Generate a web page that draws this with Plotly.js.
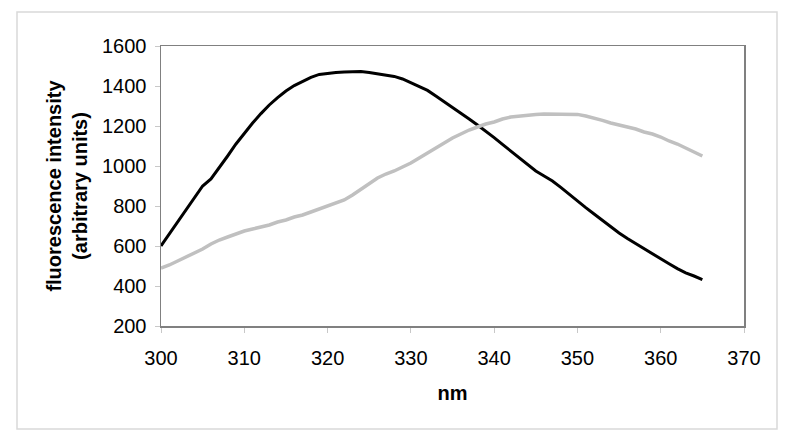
<!DOCTYPE html>
<html>
<head>
<meta charset="utf-8">
<script src="https://cdn.plot.ly/plotly-3.0.1.min.js"></script>
<style>
  html, body { margin: 0; padding: 0; background: #fff; }
  #chart { width: 800px; height: 444px; }
</style>
</head>
<body>
<div id="chart"></div>
<script>
// wavelength (nm) at 1 nm steps
var nm = [300,301,302,303,304,305,306,307,308,309,310,311,312,313,314,315,316,317,318,319,
          320,321,322,323,324,325,326,327,328,329,330,331,332,333,334,335,336,337,338,339,
          340,341,342,343,344,345,346,347,348,349,350,351,352,353,354,355,356,357,358,359,
          360,361,362,363,364,365];

// black curve
var darkSeries = [600,660,720,780,840,900,935,990,1050,1110,1165,1215,1262,1305,1342,1375,1402,1424,1443,1458,
                  1464,1467,1470,1472,1472,1468,1462,1455,1448,1435,1415,1398,1378,1350,1322,1295,1265,1235,1205,1175,
                  1142,1108,1075,1042,1008,975,950,925,893,858,825,792,760,728,695,665,637,611,586,561,
                  536,511,487,466,450,432];

// grey curve
var lightSeries = [490,505,525,545,565,585,610,630,645,660,675,685,695,705,720,730,745,755,770,785,
                   800,815,830,855,885,910,940,960,975,995,1015,1040,1065,1095,1120,1140,1160,1180,1195,1210,
                   1220,1235,1245,1250,1255,1258,1260,1260,1260,1260,1258,1250,1240,1228,1215,1205,1195,1185,1170,1160,
                   1145,1125,1110,1090,1070,1050];

var xTicks = [300,310,320,330,340,350,360,370];
var yTicks = [200,400,600,800,1000,1200,1400,1600];

var fontFam = '"Liberation Sans", Arial, sans-serif';

var dark = {
    x: nm,
    y: darkSeries,
    type: 'scatter',
    mode: 'lines',
    line: {color: '#000000', width: 3},
    hoverinfo: 'skip'
};

var light = {
    x: nm,
    y: lightSeries,
    type: 'scatter',
    mode: 'lines',
    line: {color: '#c0c0c0', width: 3.5},
    hoverinfo: 'skip'
};

var layout = {
    width: 800,
    height: 444,
    margin: {l: 161, r: 56, t: 46, b: 118},
    paper_bgcolor: '#ffffff',
    plot_bgcolor: '#ffffff',
    showlegend: false,
    font: {family: fontFam, color: '#000000', size: 20},
    xaxis: {
        range: [300, 370],
        tickvals: xTicks,
        ticks: 'outside',
        ticklen: 5,
        tickcolor: '#c8c8c8',
        showgrid: false,
        zeroline: false,
        showline: true,
        mirror: true,
        linecolor: '#808080',
        linewidth: 1.5,
        tickfont: {size: 20},
        ticklabelstandoff: 8,
        title: {text: '<b>nm</b>', font: {size: 20}, standoff: 18}
    },
    yaxis: {
        range: [200, 1600],
        tickvals: yTicks,
        ticks: 'outside',
        ticklen: 5,
        tickcolor: '#c8c8c8',
        showgrid: false,
        zeroline: false,
        showline: true,
        mirror: true,
        linecolor: '#808080',
        linewidth: 1.5,
        tickfont: {size: 20},
        ticklabelstandoff: 4,
        title: {text: '<b>fluorescence intensity<br>(arbitrary units)</b>', font: {size: 20}, standoff: 9}
    },
    shapes: [{
        type: 'rect',
        xref: 'paper', yref: 'paper',
        x0: -0.247, x1: 1.0566,
        y0: -0.368, y1: 1.1214,
        line: {color: '#d9d9d9', width: 1.5},
        layer: 'below'
    }]
};

Plotly.newPlot('chart', [dark, light], layout, {displayModeBar: false, staticPlot: true});
</script>
</body>
</html>
